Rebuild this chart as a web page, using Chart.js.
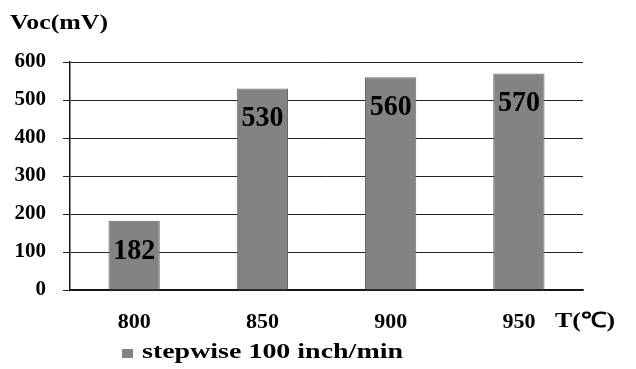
<!DOCTYPE html>
<html>
<head>
<meta charset="utf-8">
<script src="https://cdn.jsdelivr.net/npm/chart.js@4.4.1/dist/chart.umd.min.js"></script>
<style>
  html, body { margin: 0; padding: 0; background: #fff; }
  #wrap { width: 636px; height: 369px; position: relative; }
</style>
</head>
<body>
<div id="wrap"><canvas id="c" width="636" height="369"></canvas></div>
<script>
// Open-circuit voltage vs. annealing temperature
const categories = ['800', '850', '900', '950'];
const vocValues = [182, 530, 560, 570];
const yTicks = [0, 100, 200, 300, 400, 500, 600];
const seriesLabel = 'stepwise 100 inch/min';
const yTitle = 'Voc(mV)';
const xTitle = 'T(\u2103)';

const SERIF = '"Liberation Serif", "Times New Roman", Times, serif';
const BAR_GRAY = '#838383';

// Draws text squeezed or stretched to a given width
function fitText(ctx, text, x, y, width) {
  const w = ctx.measureText(text).width;
  ctx.save();
  ctx.translate(x, y);
  ctx.scale(width / w, 1);
  ctx.fillText(text, 0, 0);
  ctx.restore();
}

// Titles, value labels and legend drawn on top of the chart
const decorations = {
  id: 'decorations',
  afterDatasetsDraw(chart) {
    const ctx = chart.ctx;
    const meta = chart.getDatasetMeta(0);
    ctx.save();
    ctx.fillStyle = '#000';
    ctx.textAlign = 'left';
    ctx.textBaseline = 'middle';
    ctx.font = 'bold 30px ' + SERIF;
    meta.data.forEach((bar, i) => {
      fitText(ctx, String(vocValues[i]), bar.x - 21, bar.y + 30, 42);
    });
    ctx.restore();
  },
  afterDraw(chart) {
    const ctx = chart.ctx;
    ctx.save();
    ctx.fillStyle = '#000';
    ctx.textBaseline = 'middle';
    ctx.textAlign = 'left';
    // y-axis title
    ctx.font = 'bold 22px ' + SERIF;
    fitText(ctx, yTitle, 10, 23, 98);
    // x-axis title
    ctx.font = 'bold 21px ' + SERIF;
    fitText(ctx, xTitle, 555, 322, 60);
    // legend
    ctx.fillStyle = BAR_GRAY;
    ctx.fillRect(122, 349, 11, 9);
    ctx.fillStyle = '#000';
    ctx.font = 'bold 21px ' + SERIF;
    fitText(ctx, seriesLabel, 142, 353, 261);
    ctx.restore();
  }
};

function build() {
  new Chart(document.getElementById('c'), {
    type: 'bar',
    data: {
      labels: categories,
      datasets: [{
        label: seriesLabel,
        data: vocValues,
        backgroundColor: BAR_GRAY,
        borderColor: '#6a6a6a',
        borderWidth: 1,
        barPercentage: 0.4,
        categoryPercentage: 1.0
      }]
    },
    options: {
      responsive: false,
      animation: false,
      devicePixelRatio: 1,
      layout: { padding: { top: 62, right: 53, bottom: 0, left: 0 } },
      plugins: {
        legend: { display: false },
        title: { display: false },
        tooltip: { enabled: false }
      },
      scales: {
        x: {
          grid: { display: false, drawTicks: false },
          border: { display: true, color: '#111', width: 1.5 },
          ticks: {
            color: '#000',
            padding: 19,
            font: { family: SERIF, size: 22, weight: 'bold' }
          },
          afterFit(scale) { scale.height = 79; }
        },
        y: {
          min: 0,
          max: 600,
          afterBuildTicks(scale) { scale.ticks = yTicks.map(v => ({ value: v })); },
          grid: {
            color: '#222',
            lineWidth: 1,
            drawTicks: true,
            tickLength: 7,
            tickColor: '#222'
          },
          border: { display: true, color: '#111', width: 1.5 },
          ticks: {
            color: '#000',
            padding: 17,
            font: { family: SERIF, size: 21, weight: 'bold' }
          },
          afterFit(scale) { scale.width = 70; }
        }
      }
    },
    plugins: [decorations]
  });
}

if (document.fonts && document.fonts.load) {
  Promise.all([
    document.fonts.load('bold 20px "Liberation Serif"'),
    document.fonts.load('bold 20px "Times New Roman"')
  ]).then(build, build);
} else {
  build();
}
</script>
</body>
</html>
